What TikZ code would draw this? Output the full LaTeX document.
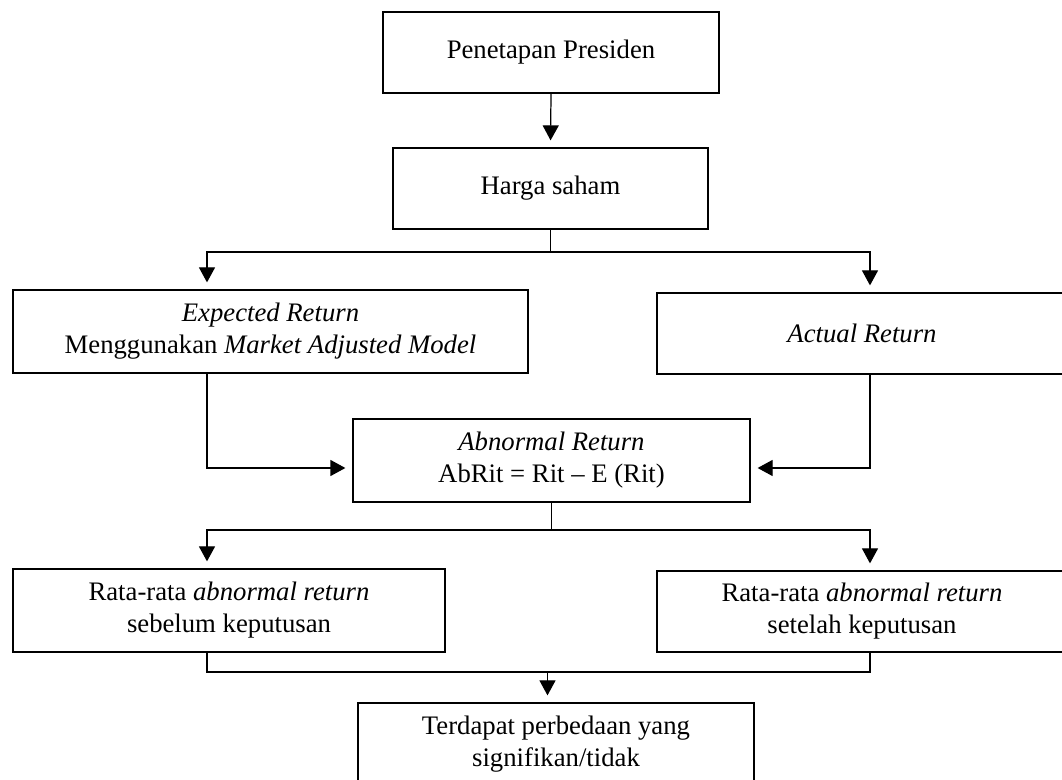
\documentclass[tikz,border=0pt]{standalone}
\usepackage{fontspec}
\setmainfont{Liberation Serif}
\usepackage{tikz}
\usetikzlibrary{arrows.meta,calc,positioning}
\tikzset{
  box/.style={draw,line width=0.7pt,rectangle,align=center,inner sep=2pt,
    font=\fontsize{15.2}{18.2}\selectfont},
  arr/.style={line width=0.7pt,-{Triangle[length=0.3cm,width=0.32cm]},shorten >=0.14cm},
  ln/.style={line width=0.7pt}
}

\begin{document}
\begin{tikzpicture}
\useasboundingbox (0,0) rectangle (21.24,-15.6);
\begin{scope}
\clip (0,0) rectangle (21.24,-15.6);
\node[box,minimum width=6.72cm,minimum height=1.62cm] (pres) at (11.02,-1.05) {Penetapan Presiden};
\node[box,minimum width=6.3cm,minimum height=1.62cm] (harga) at (11.01,-3.77) {Harga saham};
\node[box,minimum width=10.3cm,minimum height=1.66cm] (exp) at (5.41,-6.63)
  {\textit{Expected Return}\\ Menggunakan \textit{Market Adjusted Model}};
\node[box,minimum width=8.2cm,minimum height=1.62cm] (act) at (17.24,-6.67) {\textit{Actual Return}};
\node[box,minimum width=7.94cm,minimum height=1.66cm] (abn) at (11.03,-9.21)
  {\textit{Abnormal Return}\\ AbRit = Rit -- E (Rit)};
\node[box,minimum width=8.64cm,minimum height=1.66cm] (sbl) at (4.58,-12.21)
  {Rata-rata \textit{abnormal return}\\ sebelum keputusan};
\node[box,minimum width=8.2cm,minimum height=1.62cm] (stl) at (17.24,-12.23)
  {Rata-rata \textit{abnormal return}\\ setelah keputusan};
\node[box,minimum width=7.92cm,minimum height=1.66cm] (beda) at (11.12,-14.89)
  {Terdapat perbedaan yang\\ signifikan/tidak};
\end{scope}

\coordinate (L1) at (4.14,-5.04);
\coordinate (R1) at (17.4,-5.04);
\coordinate (L2) at (4.14,-10.6);
\coordinate (R2) at (17.4,-10.6);
\coordinate (L3) at (4.14,-13.44);
\coordinate (R3) at (17.4,-13.44);
\coordinate (M3) at (10.95,-13.44);

\draw[arr] (pres.south) -- (harga.north);
\draw[arr] (harga.south) |- (L1) -- (L1 |- exp.north);
\draw[arr] (harga.south) |- (R1) -- (R1 |- act.north);
\draw[arr] (L1 |- exp.south) |- ([yshift=-0.15cm]abn.west);
\draw[arr] (R1 |- act.south) |- ([yshift=-0.15cm]abn.east);
\draw[arr] (abn.south) |- (L2) -- (L2 |- sbl.north);
\draw[arr] (abn.south) |- (R2) -- (R2 |- stl.north);
\draw[ln] (L3 |- sbl.south) -- (L3) -- (R3) -- (R3 |- stl.south);
\draw[arr] (M3) -- (M3 |- beda.north);
\end{tikzpicture}
\end{document}
